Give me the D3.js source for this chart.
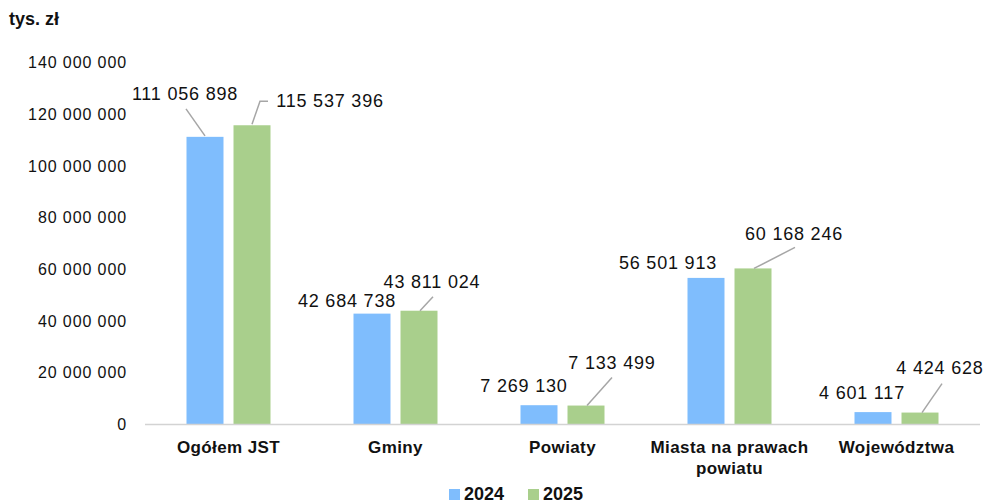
<!DOCTYPE html>
<html>
<head>
<meta charset="utf-8">
<script src="https://cdn.jsdelivr.net/npm/d3@7"></script>
<style>
  body { margin: 0; background: #fff; }
  svg { display: block; font-family: "Liberation Sans", Arial, sans-serif; }
</style>
</head>
<body>
<svg id="chart"></svg>
<script>
const WIDTH = 989
const HEIGHT = 504

const categories = ["Ogółem JST", "Gminy", "Powiaty", "Miasta na prawach powiatu", "Województwa"]
const series = ["2024", "2025"]
const values2024 = [111056898, 42684738, 7269130, 56501913, 4601117]
const values2025 = [115537396, 43811024, 7133499, 60168246, 4424628]
const yTicks = [0, 20000000, 40000000, 60000000, 80000000, 100000000, 120000000, 140000000]

const colours = { "2024": "#7fbdfd", "2025": "#a9cf8c" }

// label placement relative to the top centre of each bar: [dx, dy, leader points]
const labelLayout = {
  "2024": [[-20, -37, [[0, -1], [-19, -28]]], [-25, -7, null], [-15, -13, null], [-38, -9, null], [-11, -13, null]],
  "2025": [[78, -18, [[0, -1], [8, -24], [16, -24]]], [13, -23, [[1, 0], [14, -14]]], [26, -37, [[1, 0], [26, -28]]], [41, -28, [[1, 0], [42, -21]]], [20, -39, [[2, 0], [22, -29]]]]
}

const fmt = v => d3.format(",")(v).replace(/,/g, "\u00a0")

let svg = d3.select("#chart")
  .attr("width", WIDTH)
  .attr("height", HEIGHT)

let x = d3.scaleBand()
  .domain(categories)
  .range([145, 980])

let x1 = d3.scaleBand()
  .domain(series)
  .range([41.5, 125.5])
  .paddingInner(0.213)

let y = d3.scaleLinear()
  .domain([0, 140000000])
  .range([424, 62])

// title
svg.append("text")
  .attr("x", 9)
  .attr("y", 25)
  .style("font-size", "18px")
  .style("font-weight", "bold")
  .style("fill", "#111")
  .text("tys. zł")

// y axis labels
let yAxis = svg.append("g")
  .attr("transform", "translate(127,0)")
  .call(d3.axisLeft(y).tickValues(yTicks).tickSize(0).tickPadding(0).tickFormat(fmt))
yAxis.select(".domain").remove()
yAxis.selectAll("text")
  .style("font-family", "'Liberation Sans', Arial, sans-serif")
  .style("font-size", "16px")
  .style("letter-spacing", "0.9px")
  .style("fill", "#111")
  .attr("dy", "0.35em")

// bars
let rows = []
categories.forEach((cat, i) => {
  rows.push({ cat, i, s: "2024", v: values2024[i] })
  rows.push({ cat, i, s: "2025", v: values2025[i] })
})

svg.selectAll("rect.bar")
  .data(rows)
  .enter()
  .append("rect")
  .attr("class", "bar")
  .attr("x", d => x(d.cat) + x1(d.s))
  .attr("width", x1.bandwidth())
  .attr("y", d => y(d.v))
  .attr("height", d => y(0) - y(d.v))
  .attr("fill", d => colours[d.s])

// x axis line
svg.append("line")
  .attr("x1", 145)
  .attr("x2", 980)
  .attr("y1", y(0) + 0.5)
  .attr("y2", y(0) + 0.5)
  .attr("stroke", "#d3d3d3")
  .attr("stroke-width", 1.5)

// category labels
let xAxis = svg.append("g")
  .attr("transform", `translate(0,${y(0)})`)
  .call(d3.axisBottom(x).tickSize(0).tickPadding(0))
xAxis.select(".domain").remove()
xAxis.selectAll("text").remove()
xAxis.selectAll(".tick").each(function(cat) {
  let t = d3.select(this).append("text")
    .attr("text-anchor", "middle")
    .style("font-family", "'Liberation Sans', Arial, sans-serif")
    .style("font-size", "17px")
    .style("font-weight", "bold")
    .style("letter-spacing", "0.4px")
    .style("fill", "#111")
  let lines = cat === "Miasta na prawach powiatu" ? ["Miasta na prawach", "powiatu"] : [cat]
  lines.forEach((ln, k) => {
    t.append("tspan").attr("x", 0).attr("y", 29 + k * 21).text(ln)
  })
})

// data labels with leader lines
let line = d3.line()
rows.forEach(d => {
  let cx = x(d.cat) + x1(d.s) + x1.bandwidth() / 2
  let top = y(d.v)
  let [dx, dy, leader] = labelLayout[d.s][d.i]
  if (leader) {
    svg.append("path")
      .attr("d", line(leader.map(p => [cx + p[0], top + p[1]])))
      .attr("fill", "none")
      .attr("stroke", "#a6a6a6")
      .attr("stroke-width", 1.5)
  }
  svg.append("text")
    .attr("x", cx + dx)
    .attr("y", top + dy)
    .attr("text-anchor", "middle")
    .style("font-size", "18px")
    .style("letter-spacing", "0.8px")
    .style("fill", "#111")
    .text(fmt(d.v))
})

// legend
let legend = svg.append("g")
let legendX = [449, 528]
series.forEach((s, i) => {
  legend.append("rect")
    .attr("x", legendX[i])
    .attr("y", 489)
    .attr("width", 11)
    .attr("height", 11)
    .attr("fill", colours[s])
  legend.append("text")
    .attr("x", legendX[i] + 15)
    .attr("y", 500)
    .style("font-size", "18px")
    .style("font-weight", "bold")
    .style("fill", "#111")
    .text(s)
})
</script>
</body>
</html>
